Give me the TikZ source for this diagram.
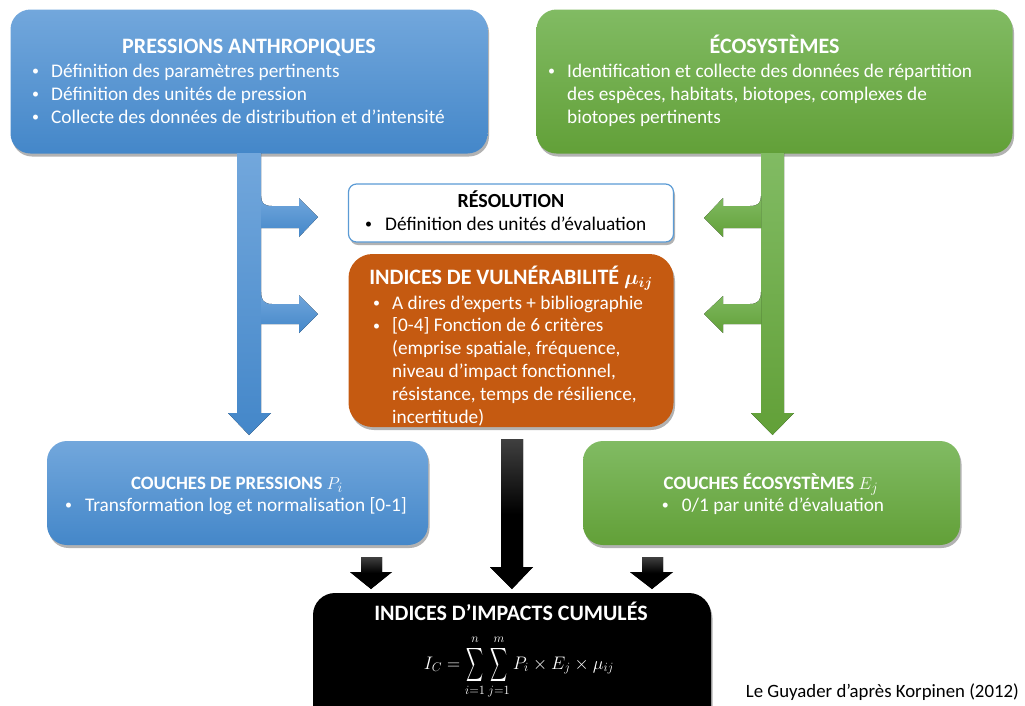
\documentclass[tikz,border=0pt]{standalone}
\usepackage{amsmath,bm}
\usepackage{fontspec}
\setmainfont{Carlito}
\usetikzlibrary{shadows,calc}
\definecolor{bluetop}{RGB}{114,167,220}
\definecolor{bluebot}{RGB}{68,135,201}
\definecolor{greentop}{RGB}{129,187,99}
\definecolor{greenbot}{RGB}{98,160,56}
\definecolor{orangec}{RGB}{197,90,17}
\definecolor{resborder}{RGB}{91,155,213}
\newcommand{\bodyfont}{\fontsize{19.3}{23}\selectfont}
\newcommand{\bdot}{\raisebox{1.5pt}{\fontsize{14}{14}\selectfont •}}
\newcommand{\bl}[1]{\makebox[19pt][l]{\bdot}#1}
\newcommand{\ind}{\hspace*{19pt}}
\newcommand{\bigS}{\mathop{\vcenter{\hbox{\scalebox{0.65}[1.3]{$\displaystyle\sum$}}}}\limits}
\tikzset{
  box/.style={rounded corners=20pt, inner sep=0pt,
    drop shadow={shadow xshift=1.5pt, shadow yshift=-3pt, opacity=0.3, fill=black}},
  bluebox/.style={box, top color=bluetop, bottom color=bluebot},
  greenbox/.style={box, top color=greentop, bottom color=greenbot},
  orangebox/.style={box, rounded corners=24pt, fill=orangec},
  resbox/.style={box, rounded corners=8pt, fill=white, draw=resborder, line width=1.2pt},
  blackbox/.style={box, rounded corners=22pt, fill=black},
  bigtitle/.style={anchor=base, inner sep=0pt, font=\fontsize{22}{24}\bfseries\selectfont},
  midtitle/.style={anchor=base, inner sep=0pt, font=\fontsize{20}{22}\bfseries\selectfont},
  smalltitle/.style={anchor=base, inner sep=0pt, font=\fontsize{18.9}{20}\bfseries\selectfont},
  list/.style={anchor=base west, inner sep=0pt, font=\bodyfont},
  bluearrow/.style={top color=bluetop, bottom color=bluebot},
  greenarrow/.style={top color=greentop, bottom color=greenbot},
  blackarrow/.style={top color=black!75, bottom color=black, middle color=black},
}
\begin{document}
\begin{tikzpicture}[x=1pt,y=-1pt]
\useasboundingbox (0,0) rectangle (1025,705);

% ---------- boxes ----------
\node[bluebox, minimum width=477pt, minimum height=144pt] (press) at (249,81.5) {};
\node[greenbox, minimum width=476pt, minimum height=144pt] (eco) at (774.5,81.5) {};
\node[resbox, minimum width=325pt, minimum height=58pt] (res) at (511,213) {};
\node[orangebox, minimum width=325pt, minimum height=173pt] (vuln) at (511,340.5) {};
\node[bluebox, minimum width=381pt, minimum height=104pt] (cpress) at (237.5,493) {};
\node[greenbox, minimum width=377pt, minimum height=104pt] (ceco) at (771.5,493) {};
\node[blackbox, minimum width=398pt, minimum height=140pt] (icum) at (512,663) {};

% ---------- texts ----------
\node[bigtitle, text=white] (tpress) at (249,53) {PRESSIONS ANTHROPIQUES};
\node[list, text=white] (lpress) at (32,77) {\parbox[t]{450pt}{\bodyfont\raggedright
  \bl{Définition des paramètres pertinents}\\
  \bl{Définition des unités de pression}\\
  \bl{Collecte des données de distribution et d’intensité}}};

\node[bigtitle, text=white] (teco) at (774.5,53) {ÉCOSYSTÈMES};
\node[list, text=white] (leco) at (548,77) {\parbox[t]{450pt}{\bodyfont\raggedright
  \bl{Identification et collecte des données de répartition}\\
  \ind des espèces, habitats, biotopes, complexes de\\
  \ind biotopes pertinents}};

\node[midtitle, text=black] (tres) at (511,207) {RÉSOLUTION};
\node[list, text=black] (lres) at (365,230) {\parbox[t]{300pt}{\bodyfont\raggedright
  \makebox[20pt][l]{\bdot}Définition des unités d’évaluation}};

\node[bigtitle, text=white] (tvuln) at (511,284) {INDICES DE VULNÉRABILITÉ $\bm{\mu_{ij}}$};
\node[list, text=white] (lvuln) at (373,309) {\parbox[t]{300pt}{\fontsize{19.3}{22.8}\selectfont\raggedright
  \bl{A dires d’experts + bibliographie}\\
  \bl{[0-4] Fonction de 6 critères}\\
  \ind(emprise spatiale, fréquence,\\
  \ind niveau d’impact fonctionnel,\\
  \ind résistance, temps de résilience,\\
  \ind incertitude)}};

\node[smalltitle, text=white] (tcpress) at (237,489) {COUCHES DE PRESSIONS {\mdseries$P_i$}};
\node[list, text=white, anchor=base] (lcpress) at (236,511) {\makebox[20pt][l]{\bdot}Transformation log et normalisation [0-1]};

\node[smalltitle, text=white] (tceco) at (771,489) {COUCHES ÉCOSYSTÈMES {\mdseries$E_j$}};
\node[list, text=white, anchor=base] (lceco) at (773,511) {\makebox[20pt][l]{\bdot}0/1 par unité d’évaluation};

\node[bigtitle, text=white] (ticum) at (511,620) {INDICES D’IMPACTS CUMULÉS};
\node[text=white, inner sep=0pt, font=\fontsize{17.5}{20}\selectfont] (ficum) at (519,667)
  {\scalebox{1.05}{$\displaystyle I_C=\bigS_{i=1}^{n}\bigS_{j=1}^{m}P_i\times E_j\times \mu_{ij}$}};

\node[anchor=base east, inner sep=0pt, font=\fontsize{18.8}{20}\selectfont] (credit) at (1019,697) {Le Guyader d’après Korpinen (2012)};

% ---------- blue arrows ----------
\fill[bluearrow] (237,153) -- (261,153) -- (261,413) -- (271,413) -- (249,435) -- (228,413) -- (237,413) -- cycle;
\fill[bluearrow] (261,196) .. controls (261,203) and (264,206) .. (272,206) -- (299,206) -- (299,198) -- (318,217)
   -- (299,237) -- (299,228) -- (261,228) -- cycle;
\fill[bluearrow] (261,292) .. controls (261,300) and (264,304) .. (272,304) -- (299,304) -- (299,295) -- (318,314)
   -- (299,333) -- (299,324) -- (261,324) -- cycle;

% ---------- green arrows ----------
\fill[greenarrow] (761,153) -- (784,153) -- (784,413) -- (794,413) -- (772.5,435) -- (751,413) -- (761,413) -- cycle;
\fill[greenarrow] (761,196) .. controls (761,203) and (758,206) .. (750,206) -- (723,206) -- (723,198) -- (704,218)
   -- (723,237) -- (723,228) -- (761,228) -- cycle;
\fill[greenarrow] (761,292) .. controls (761,300) and (758,304) .. (750,304) -- (723,304) -- (723,296) -- (704,314)
   -- (723,333) -- (723,324) -- (761,324) -- cycle;

% ---------- black arrows ----------
\fill[blackarrow] (501,439) -- (523,439) -- (523,567) -- (533,567) -- (512,589) -- (490,567) -- (501,567) -- cycle;
\fill[blackarrow] (361,557) -- (382,557) -- (382,572) -- (392,572) -- (371,589) -- (350,572) -- (361,572) -- cycle;
\fill[blackarrow] (642,557) -- (663,557) -- (663,572) -- (673,572) -- (652,589) -- (630,572) -- (642,572) -- cycle;
\end{tikzpicture}
\end{document}
